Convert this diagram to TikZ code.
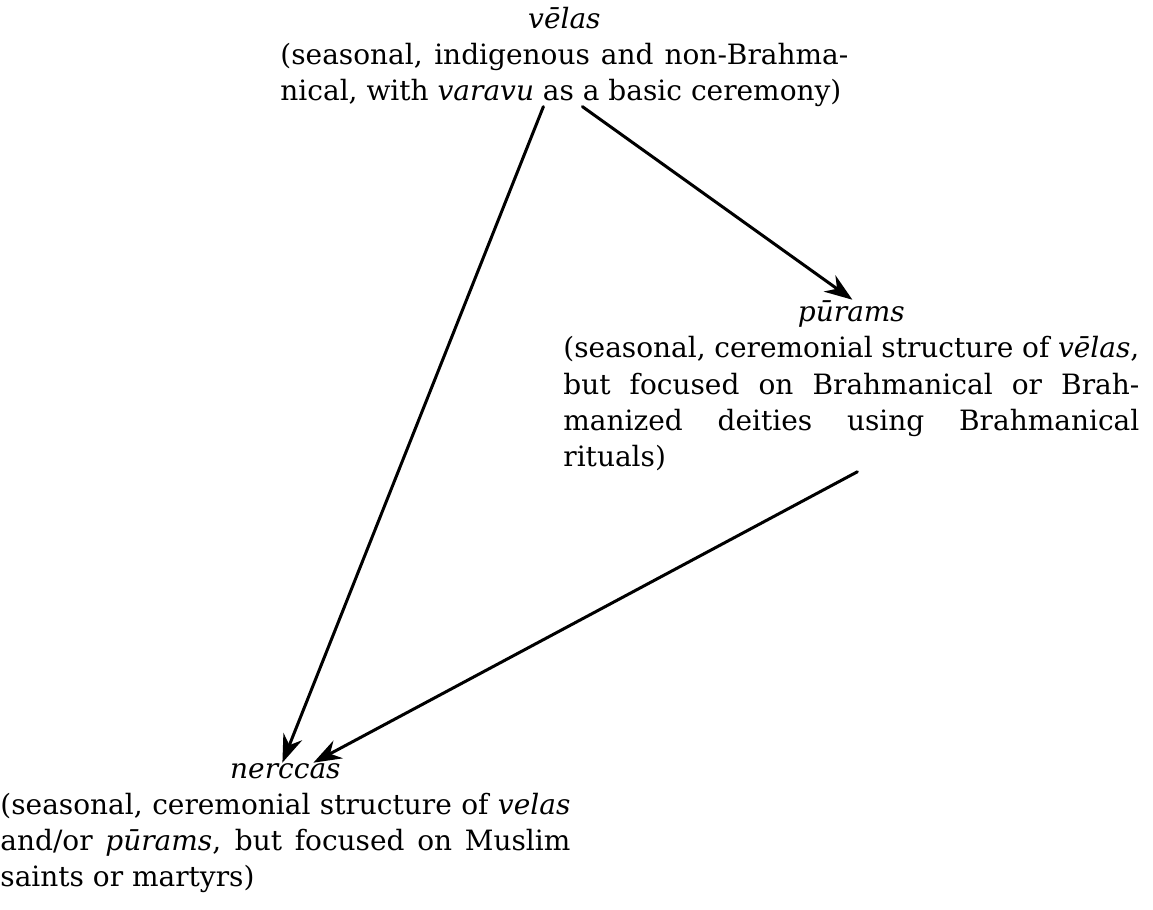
\documentclass[tikz,border=0pt]{standalone}
\usepackage{fontspec}
\setmainfont{DejaVu Serif}
\usepackage{tikz}
\usetikzlibrary{arrows.meta}
\hyphenpenalty=10000

\begin{document}
\begin{tikzpicture}[
  x=0.5pt, y=-0.5pt,
  font=\fontsize{14pt}{18pt}\selectfont,
  >={Stealth[length=14pt, width=10pt]},
  line cap=round, line join=round,
  fest/.style={align=justify, inner sep=0pt, anchor=base west},
  link/.style={->, line width=1.5pt},
]
\useasboundingbox (0,0) rectangle (1153,910);

% the three kinds of festival
\node[fest, text width=284pt] (velas) at (280,28) {%
  {\centering\itshape vēlas\par}
  (seasonal, indigenous and non-Brahma-\linebreak
  nical, with \textit{varavu} as a basic ceremony)};

\node[fest, text width=288pt, font=\fontsize{14pt}{18.25pt}\selectfont] (purams) at (563,321) {%
  {\centering\itshape pūrams\par}
  (seasonal, ceremonial structure of \textit{vēlas},\linebreak
  but focused on Brahmanical or Brah-\linebreak
  manized deities using Brahmanical\linebreak
  rituals)};

\node[fest, text width=285pt] (nerccas) at (0,778) {%
  {\centering\itshape nerccas\par}
  (seasonal, ceremonial structure of \textit{velas}\linebreak
  and/or \textit{pūrams}, but focused on Muslim\linebreak
  saints or martyrs)};

% derivations
\draw[link] ([xshift=-10.5pt]velas.south) -- ([xshift=-1.5pt]nerccas.north);
\draw[link] ([xshift=9pt]velas.south) -- ([xshift=0.5pt]purams.north);
\draw[link] ([xshift=3pt]purams.south) -- ([xshift=14pt]nerccas.north);
\end{tikzpicture}
\end{document}
